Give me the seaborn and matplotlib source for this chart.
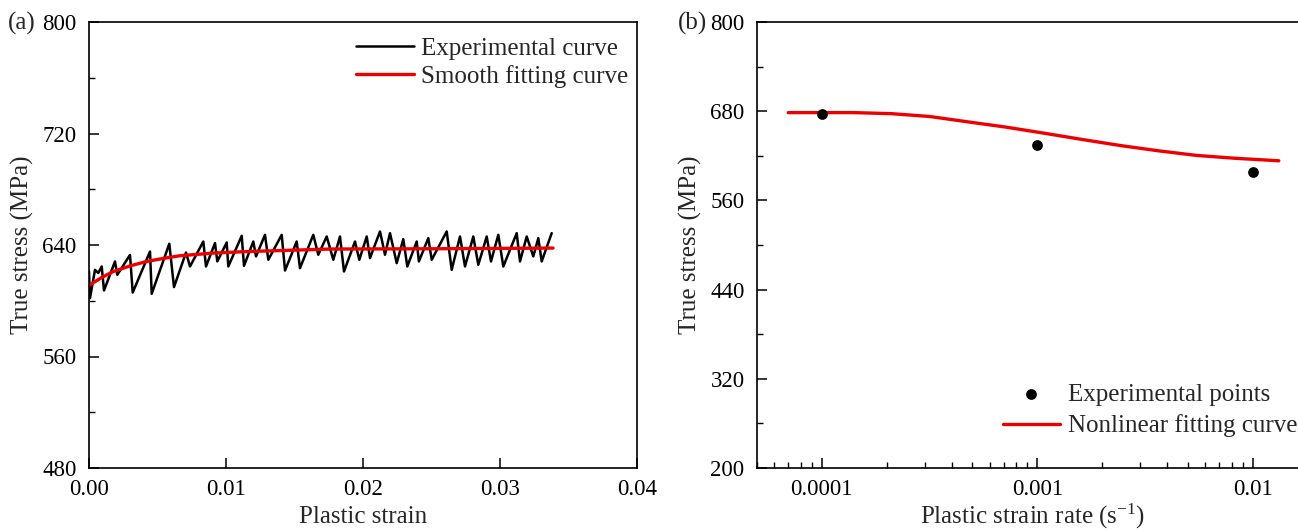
import numpy as np
import pandas as pd
import matplotlib
matplotlib.use("Agg")
import matplotlib.pyplot as plt
import seaborn as sns
from matplotlib.ticker import (FixedLocator, FixedFormatter, MultipleLocator,
                               LogLocator, NullFormatter, FormatStrFormatter)

# ---------------- Data: panel (a) ----------------
exp_strain = [0.0, 0.000073, 0.000438, 0.000679, 0.000927, 0.001095, 0.001898, 0.002066,
              0.002993, 0.00319, 0.004453, 0.004577, 0.005861, 0.006204, 0.00708, 0.007372,
              0.008343, 0.00854, 0.009197, 0.009365, 0.010051, 0.010168, 0.011146, 0.011314,
              0.011993, 0.01219, 0.012847, 0.013088, 0.014066, 0.014307, 0.01516,
              0.015401, 0.016372, 0.016737, 0.01735, 0.017832, 0.018321, 0.018613, 0.019416,
              0.01973, 0.02027, 0.020511, 0.021241, 0.021606, 0.021971, 0.02246, 0.022942,
              0.023234, 0.02392, 0.02408, 0.024766, 0.025015, 0.02611, 0.026474, 0.02708,
              0.027445, 0.028051, 0.028416, 0.029029, 0.029343, 0.029876, 0.030241, 0.031219,
              0.03146, 0.031949, 0.03243, 0.032796, 0.033044, 0.033774]
exp_stress = [621.0, 601.9, 622.2, 619.9, 624.6, 607.4, 628.2, 618.6,
              632.9, 605.9, 635.3, 605.0, 640.9, 609.8, 634.6, 624.6,
              642.5, 624.6, 641.4, 628.2, 641.8, 624.6, 646.6, 625.1,
              642.5, 631.8, 647.3, 629.4, 647.3, 621.7, 642.5,
              623.4, 647.3, 633.0, 646.1, 629.4, 646.1, 621.0, 642.5,
              629.4, 646.1, 630.6, 649.7, 633.0, 648.5, 627.0, 644.2,
              624.6, 642.5, 628.2, 644.9, 629.4, 649.7, 622.2, 646.1,
              624.6, 646.1, 625.8, 646.1, 628.2, 647.3, 624.6, 648.5,
              628.2, 646.1, 631.8, 644.9, 628.2, 648.5]

fit_strain = [0.0, 0.0009, 0.001774, 0.003, 0.004212, 0.0055, 0.006642, 0.009073,
              0.011511, 0.013942, 0.017591, 0.02511, 0.03387]
fit_stress = [611.0, 616.5, 621.0, 625.0, 628.2, 630.5, 632.3, 634.2,
              635.3, 636.0, 637.1, 637.3, 637.8]

# ---------------- Data: panel (b) ----------------
pts_rate = [1e-4, 1e-3, 1e-2]
pts_stress = [676.0, 634.0, 598.0]

curve_rate = [6.98e-5, 1.40e-4, 2.10e-4, 3.16e-4, 4.75e-4, 7.15e-4, 1.07e-3, 1.62e-3,
              2.43e-3, 3.65e-3, 5.49e-3, 8.25e-3, 1.32e-2]
curve_stress = [678.1, 678.1, 676.7, 672.9, 665.7, 658.6, 650.5, 641.9,
                633.8, 626.7, 620.5, 616.7, 613.3]

xticks_b = [1e-4, 1e-3, 1e-2]
xticklabels_b = ["0.0001", "0.001", "0.01"]
yticks_b = [200, 320, 440, 560, 680, 800]

# ---------------- Style ----------------
sns.set_theme(style="ticks")
plt.rcParams["font.family"] = ["Liberation Serif", "DejaVu Serif"]
plt.rcParams["mathtext.default"] = "regular"
FS_TICK = 16.5
FS_LAB = 18
FS_LEG = 18

fig = plt.figure(figsize=(12.98, 5.30), dpi=100)
W, H = 1298, 530
ax1 = fig.add_axes([89 / W, 62 / H, 548 / W, 446 / H])
ax2 = fig.add_axes([757 / W, 62 / H, 560.7 / W, 446 / H])

df_exp = pd.DataFrame({"strain": exp_strain, "stress": exp_stress})
df_fit = pd.DataFrame({"strain": fit_strain, "stress": fit_stress})
sns.lineplot(data=df_exp, x="strain", y="stress", ax=ax1, color="black", lw=1.8,
             sort=False, estimator=None, label="Experimental curve")
sns.lineplot(data=df_fit, x="strain", y="stress", ax=ax1, color="#ee0000", lw=2.4,
             sort=False, estimator=None, label="Smooth fitting curve")

ax1.set_xlim(0, 0.04)
ax1.set_ylim(480, 800)
ax1.xaxis.set_major_locator(MultipleLocator(0.01))
ax1.xaxis.set_major_formatter(FormatStrFormatter("%.2f"))
ax1.yaxis.set_major_locator(MultipleLocator(80))
ax1.yaxis.set_minor_locator(MultipleLocator(40))
ax1.set_xlabel("Plastic strain", fontsize=FS_LAB)
ax1.set_ylabel("True stress (MPa)", fontsize=FS_LAB)
ax1.legend(loc="upper right", bbox_to_anchor=(1.012, 1.0), frameon=False, fontsize=FS_LEG,
           handlelength=2.3, handletextpad=0.3, labelspacing=0.22, borderaxespad=0.2)

df_pts = pd.DataFrame({"rate": pts_rate, "stress": pts_stress})
df_curve = pd.DataFrame({"rate": curve_rate, "stress": curve_stress})
sns.scatterplot(data=df_pts, x="rate", y="stress", ax=ax2, color="black", s=60,
                edgecolor="black", linewidth=0, label="Experimental points", zorder=3)
sns.lineplot(data=df_curve, x="rate", y="stress", ax=ax2, color="#ee0000", lw=2.4,
             sort=False, estimator=None, label="Nonlinear fitting curve")
ax2.set_xscale("log")
ax2.set_xlim(5e-5, 2e-2)
ax2.set_ylim(200, 800)
ax2.xaxis.set_major_locator(FixedLocator(xticks_b))
ax2.xaxis.set_major_formatter(FixedFormatter(xticklabels_b))
ax2.xaxis.set_minor_locator(LogLocator(base=10, subs=np.arange(2, 10)))
ax2.xaxis.set_minor_formatter(NullFormatter())
ax2.yaxis.set_major_locator(FixedLocator(yticks_b))
ax2.yaxis.set_minor_locator(FixedLocator([260, 380, 500, 620, 740]))
ax2.set_xlabel("Plastic strain rate (s$^{-1}$)", fontsize=FS_LAB)
ax2.set_ylabel("True stress (MPa)", fontsize=FS_LAB)
ax2.legend(loc="lower right", bbox_to_anchor=(0.99, 0.035), frameon=False, fontsize=FS_LEG,
           handlelength=2.3, handletextpad=0.3, labelspacing=0.35, borderaxespad=0.2)

for ax in (ax1, ax2):
    for sp in ax.spines.values():
        sp.set_linewidth(1.2)
        sp.set_color("black")
    ax.tick_params(which="major", direction="in", length=7, width=1.1, labelsize=FS_TICK,
                   colors="black")
    ax.tick_params(which="minor", direction="in", length=4, width=1.0, colors="black")
    ax.tick_params(axis="y", which="major", pad=9)
    ax.tick_params(axis="x", which="major", pad=8)
    ax.tick_params(axis="x", which="both", top=False)
    ax.tick_params(axis="y", which="both", right=False)

# axis label placement
ax1.yaxis.set_label_coords((22 - 89) / 548, 0.5)
ax1.yaxis.label.set_va("center")
ax2.yaxis.set_label_coords((690 - 757) / 560.7, 0.5)
ax2.yaxis.label.set_va("center")
ax1.xaxis.set_label_coords(0.5, (468 - 517) / 446)
ax1.xaxis.label.set_va("center")
ax2.xaxis.set_label_coords((1033 - 757) / 560.7, (468 - 516) / 446)
ax2.xaxis.label.set_va("center")

fig.text(8 / W, 1 - 30 / H, "(a)", fontsize=FS_LAB, ha="left", va="baseline")
fig.text(678 / W, 1 - 30 / H, "(b)", fontsize=FS_LAB, ha="left", va="baseline")

fig.savefig("out.png", dpi=100)
